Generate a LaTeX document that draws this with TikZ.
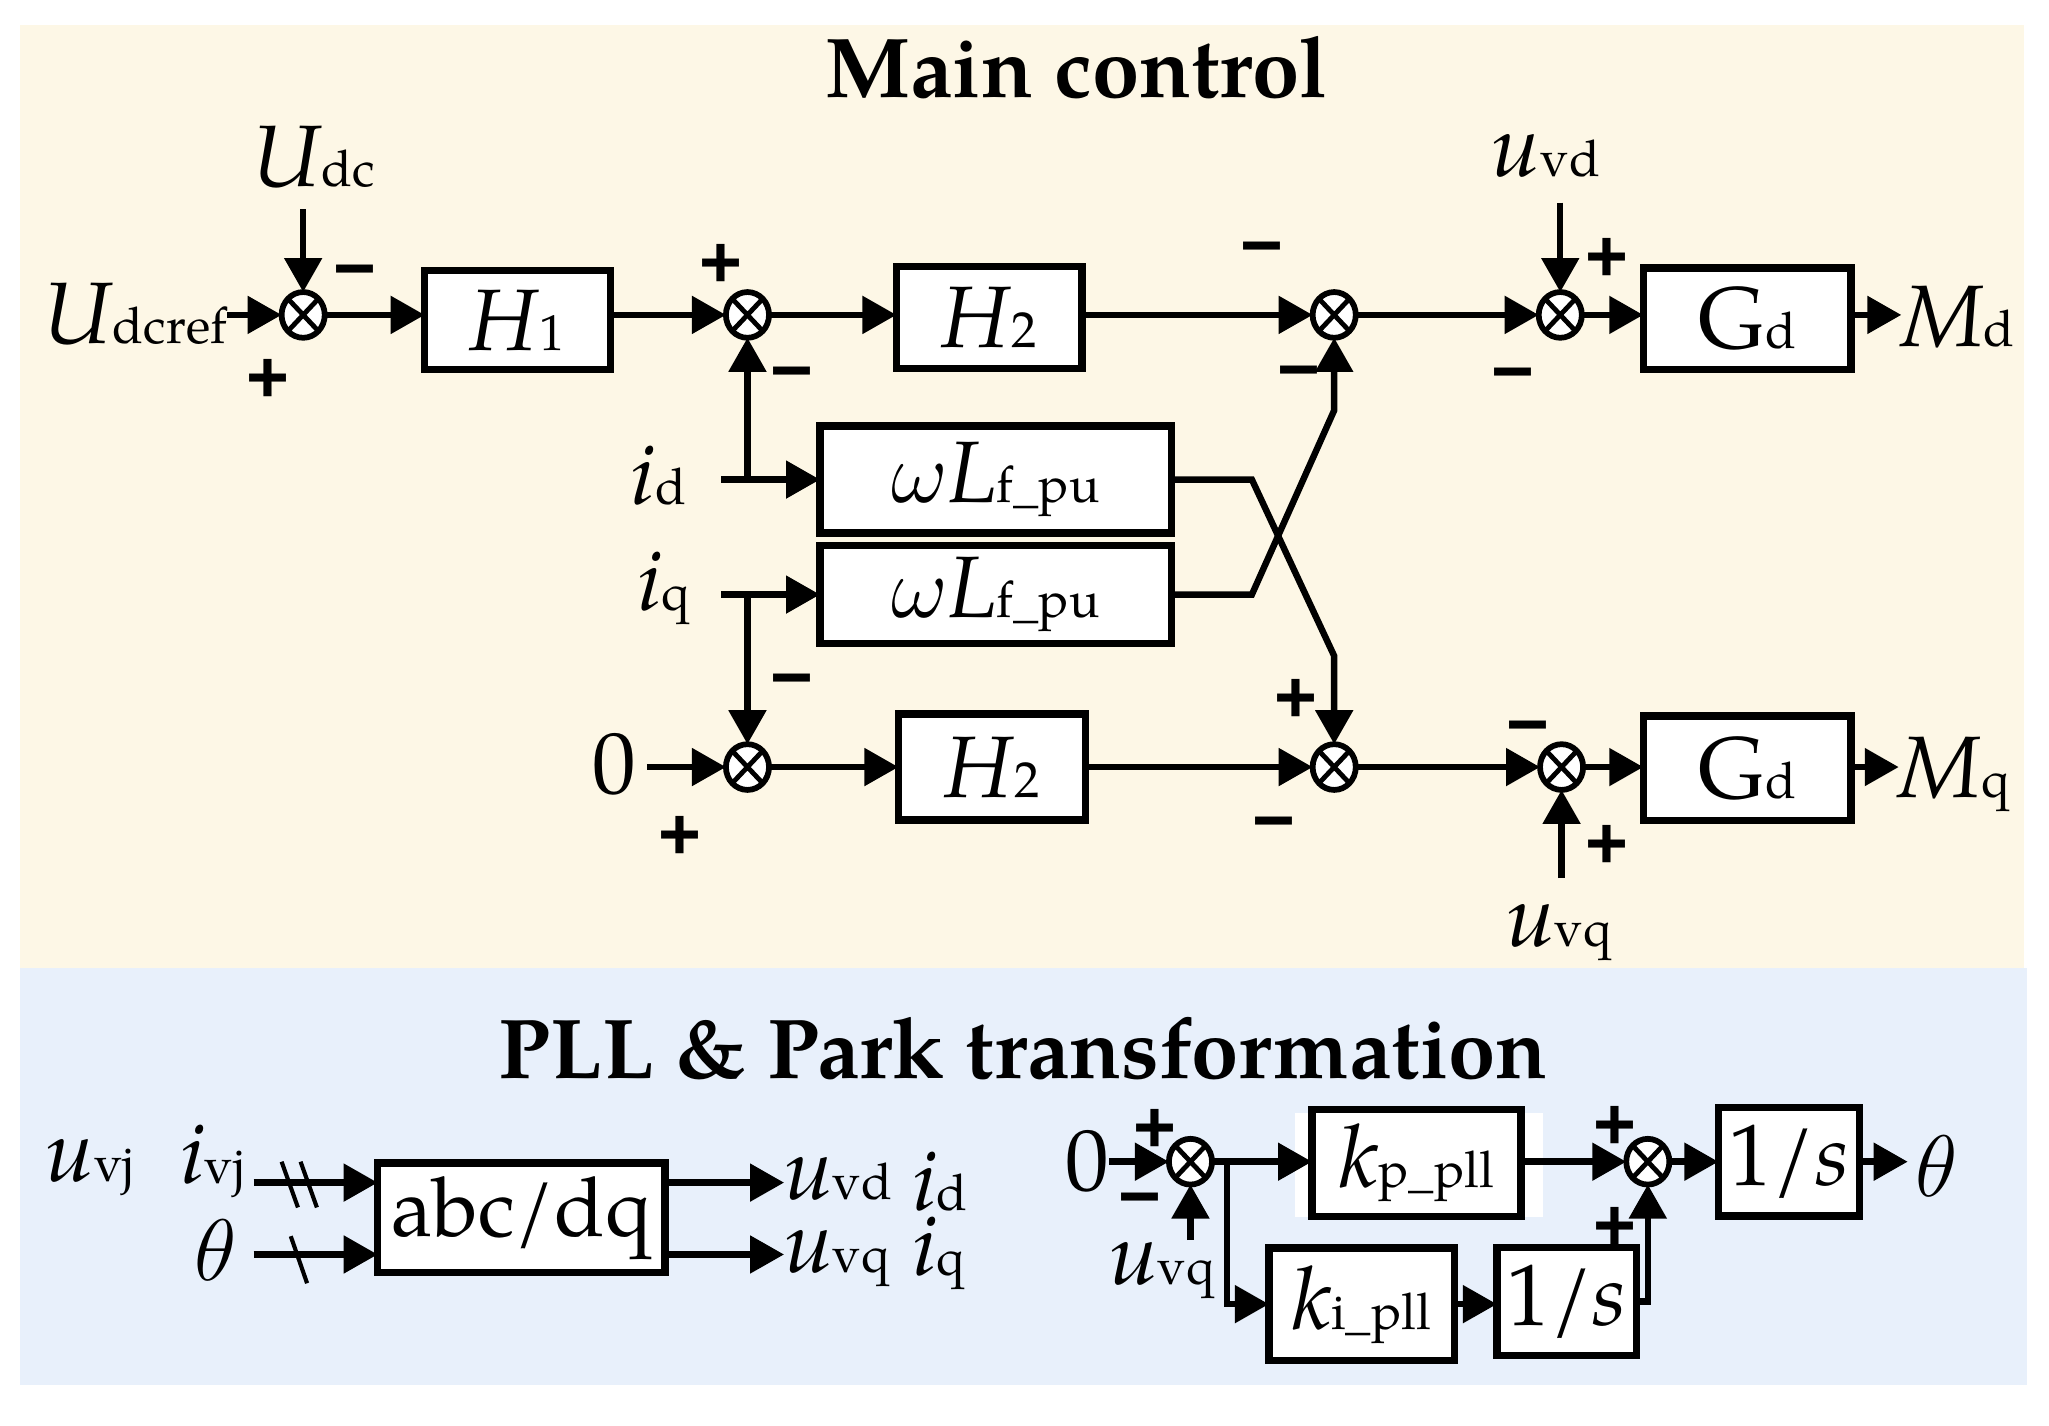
\documentclass[tikz,border=0pt]{standalone}
\usepackage{fix-cm}
\usepackage{fontspec}
\setmainfont{texgyrepagella}[Extension=.otf,UprightFont=*-regular,BoldFont=*-bold,ItalicFont=*-italic,BoldItalicFont=*-bolditalic]
\newfontfamily\signfont{Liberation Sans}
\usetikzlibrary{arrows.meta,shapes.geometric,calc}
\definecolor{ycol}{RGB}{253,247,230}
\definecolor{bcol}{RGB}{232,240,251}
\newcommand\mysub[1]{{\fontsize{11}{11}\selectfont\upshape #1}}
\tikzset{
  every node/.style={inner sep=0pt,outer sep=0pt},
  blk/.style 2 args={draw,line width=1.6pt,fill=white,minimum width=#1*0.1mm,minimum height=#2*0.1mm,font=\fontsize{19}{19}\selectfont},
  sumj/.style={draw,ellipse,line width=1.25pt,fill=white,minimum width=3.3mm,minimum height=3.5mm},
  sig/.style={font=\signfont\bfseries\fontsize{16}{16}\selectfont,text height=11.2pt,text depth=0pt},
  lbl/.style={font=\fontsize{19}{19}\selectfont},
  ttl/.style={font=\bfseries\fontsize{18.5}{18.5}\selectfont},
  conn/.style={line width=1.4pt},
  arr/.style={conn,-{Triangle[length=2.6mm,width=2.8mm]}},
  slash/.style={line width=0.9pt},
}
\begin{document}
\begin{tikzpicture}[x=0.1mm,y=-0.1mm]
\useasboundingbox (0,0) rectangle (1568,1091);
\fill[ycol] (15,19) rectangle (1549,741);
\fill[bcol] (15,741) rectangle (1551,1060);

% titles
\node[ttl,anchor=base] (t1) at (824,75) {Main control};
\node[ttl,anchor=base] (t2) at (783,825) {PLL \& Park transformation};

% summing junctions
\node[sumj] (s1) at (232,241) {};
\node[sumj] (s2) at (572,241) {};
\node[sumj] (s3) at (1021,241) {};
\node[sumj] (s4) at (1194,241) {};
\node[sumj] (s5) at (572,587) {};
\node[sumj] (s6) at (1021,587) {};
\node[sumj] (s7) at (1195,587) {};
\node[sumj] (s8) at (911,889) {};
\node[sumj] (s9) at (1261,889) {};
\foreach \s in {s1,s2,s3,s4,s5,s6,s7,s8,s9}
  \draw[line width=1.05pt] (\s.north west) -- (\s.south east) (\s.north east) -- (\s.south west);

% blocks
\node[blk={142}{76}] (h1) at (396,245) {\textit{H}\mysub{1}};
\node[blk={142}{78}] (h2) at (757,243) {\textit{H}\mysub{2}};
\node[blk={159}{78}] (gd) at (1337,244) {G\mysub{d}};
\node[blk={269}{82}] (w1) at (762,367) {$\omega$\textit{L}\mysub{f\_pu}};
\node[blk={269}{75}] (w2) at (762,455) {$\omega$\textit{L}\mysub{f\_pu}};
\node[blk={143}{81}] (h2b) at (759,587) {\textit{H}\mysub{2}};
\node[blk={159}{80}] (gdb) at (1337,588) {G\mysub{d}};
\node[blk={220}{84},font=\fontsize{18}{18}\selectfont] (abc) at (399,932) {abc/dq};
\fill[white] (991,852) rectangle (1181,931);
\node[blk={160}{82}] (kp) at (1084,890) {\textit{k}\mysub{p\_pll}};
\node[blk={108}{83}] (oi1) at (1369,889) {1/\textit{s}};
\node[blk={142}{86}] (ki) at (1042,998) {\textit{k}\mysub{i\_pll}};
\node[blk={107}{83}] (oi2) at (1199,996) {1/\textit{s}};

% labels, main control
\node[lbl,anchor=base west] (udcref) at (33,263) {\textit{U}\mysub{dcref}};
\node[lbl,anchor=base] (udc) at (240,143) {\textit{U}\mysub{dc}};
\node[lbl,anchor=base] (uvd) at (1183,135) {\textit{u}\mysub{vd}};
\node[lbl,anchor=base west] (md) at (1455,265) {\textit{M}\mysub{d}};
\node[lbl,anchor=base east] (id) at (525,386) {\textit{i}\mysub{d}};
\node[lbl,anchor=base east] (iq) at (528,467) {\textit{i}\mysub{q}};
\node[lbl,anchor=base east] (zero1) at (487,607) {0};
\node[lbl,anchor=base west] (mq) at (1453,610) {\textit{M}\mysub{q}};
\node[lbl,anchor=base] (uvq) at (1193,724) {\textit{u}\mysub{vq}};

% labels, PLL
\node[lbl,anchor=base west] (uvj) at (35,904) {\textit{u}\mysub{vj}};
\node[lbl,anchor=base west] (ivj) at (138,906) {\textit{i}\mysub{vj}};
\node[lbl,anchor=base] (th1) at (165,980) {$\theta$};
\node[lbl,anchor=base west] (uvd2) at (600,918) {\textit{u}\mysub{vd}};
\node[lbl,anchor=base west] (id2) at (698,926) {\textit{i}\mysub{d}};
\node[lbl,anchor=base west] (uvq2) at (600,974) {\textit{u}\mysub{vq}};
\node[lbl,anchor=base west] (iq2) at (698,976) {\textit{i}\mysub{q}};
\node[lbl,anchor=base] (zero2) at (832,911) {0};
\node[lbl,anchor=base west] (uvq3) at (849,983) {\textit{u}\mysub{vq}};
\node[lbl,anchor=base] (th2) at (1482,916) {$\theta$};

% signs
\node[sig] (g1) at (272,205) {−};
\node[sig] (g2) at (205,288) {+};
\node[sig] (g3) at (552,200) {+};
\node[sig] (g4) at (606,283) {−};
\node[sig] (g5) at (966,187) {−};
\node[sig] (g6) at (994,282) {−};
\node[sig] (g7) at (1230,196) {+};
\node[sig] (g8) at (1158,284) {−};
\node[sig] (g9) at (606,518) {−};
\node[sig] (g10) at (520,638) {+};
\node[sig] (g11) at (992,533) {+};
\node[sig] (g12) at (975,627) {−};
\node[sig] (g13) at (1169,554) {−};
\node[sig] (g14) at (1230,645) {+};
\node[sig] (g15) at (884,862) {+};
\node[sig] (g16) at (872,915) {−};
\node[sig] (g17) at (1236,860) {+};
\node[sig] (g18) at (1236,937) {+};

% free ends
\coordinate (cudc) at (232,160);
\coordinate (cuvd) at (1194,155);
\coordinate (cid) at (552,367);
\coordinate (ciq) at (552,455);
\coordinate (cuvq) at (1195,672);
\coordinate (in1) at (194,905);
\coordinate (in2) at (194,960);
\coordinate (cuvq3) at (911,949);
\coordinate (j8) at (939,889);

% main control connectors
\draw[arr] (udcref.east |- s1) -- (s1);
\draw[arr] (cudc) -- (s1);
\draw[arr] (s1) -- (s1 -| h1.west);
\draw[arr] (h1.east |- s2) -- (s2);
\draw[arr] (s2) -- (s2 -| h2.west);
\draw[arr] (h2.east |- s3) -- (s3);
\draw[arr] (s3) -- (s4);
\draw[arr] (cuvd) -- (s4);
\draw[arr] (s4) -- (s4 -| gd.west);
\draw[arr] (gd.east |- s4) -- (md.west |- s4);
\draw[arr] (cid) -- (cid -| w1.west);
\draw[arr] (s2 |- cid) -- (s2);
\draw[arr] (ciq) -- (ciq -| w2.west);
\draw[arr] (s5 |- ciq) -- (s5);
\draw[arr] (w1.east |- cid) -- (958,367) -- (1021,502) -- (s6);
\draw[arr] (w2.east |- ciq) -- (958,455) -- (1021,314) -- (s3);
\draw[arr,shorten <=0.8mm] (zero1.east |- s5) -- (s5);
\draw[arr] (s5) -- (s5 -| h2b.west);
\draw[arr] (h2b.east |- s6) -- (s6);
\draw[arr] (s6) -- (s7);
\draw[arr] (cuvq) -- (s7);
\draw[arr] (s7) -- (s7 -| gdb.west);
\draw[arr] (gdb.east |- s7) -- (mq.west |- s7);

% PLL connectors
\draw[arr] (in1) -- (in1 -| abc.west);
\draw[arr] (in2) -- (in2 -| abc.west);
\draw[slash] (215.5,889) -- (228,924) (230,889) -- (242.5,924);
\draw[slash] (222.5,946) -- (235,982);
\draw[arr] (abc.east |- in1) -- (uvd2.west |- in1);
\draw[arr] (abc.east |- in2) -- (uvq2.west |- in2);
\draw[arr] (zero2.east |- s8) -- (s8);
\draw[arr] (cuvq3) -- (s8);
\draw[arr] (s8) -- (s8 -| kp.west);
\draw[arr] (j8) |- (ki.west);
\draw[arr] (kp.east |- s9) -- (s9);
\draw[arr] (ki.east) -- (ki.east -| oi2.west);
\draw[arr] (oi2.east) -| (s9);
\draw[arr] (s9) -- (s9 -| oi1.west);
\draw[arr] (oi1.east) -- ([xshift=-0.6mm]th2.west |- oi1.east);
\end{tikzpicture}
\end{document}
